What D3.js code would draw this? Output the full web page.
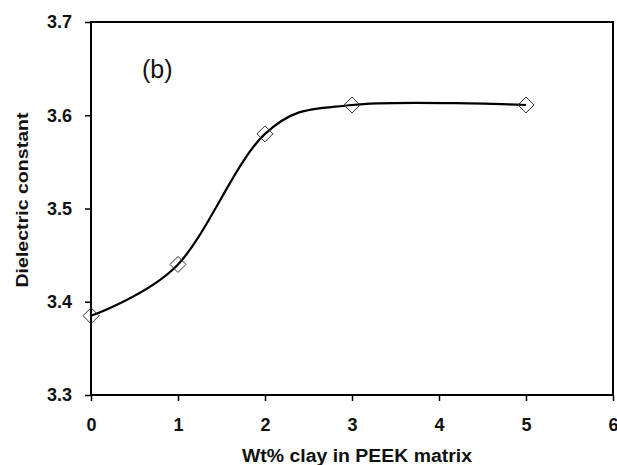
<!DOCTYPE html>
<html lang="en">
<head>
<meta charset="UTF-8">
<script src="https://d3js.org/d3.v7.min.js"></script>
<style>
  body { margin: 0; background: #fff; }
  text { font-family: "Liberation Sans", Arial, sans-serif; fill: #111; }
</style>
</head>
<body>
<div id="chart"></div>
<script>
// data
var clayWt = [0, 1, 2, 3, 5];
var dielectric = [3.385, 3.44, 3.58, 3.611, 3.611];
var xTicks = [0, 1, 2, 3, 4, 5, 6];
var yTicks = [3.3, 3.4, 3.5, 3.6, 3.7];

var W = 617, H = 465;
var margin = { top: 22, right: 4, bottom: 70, left: 91 };
var width = W - margin.left - margin.right,
    height = H - margin.top - margin.bottom;

var svg = d3.select("#chart").append("svg")
    .attr("width", W).attr("height", H);
var g = svg.append("g")
    .attr("transform", "translate(" + margin.left + "," + margin.top + ")");

var x = d3.scaleLinear().domain([0, 6]).range([0, width]);
var y = d3.scaleLinear().domain([3.3, 3.7]).range([height, 0]);

// frame
g.append("rect")
    .attr("width", width).attr("height", height)
    .attr("fill", "none").attr("stroke", "#000").attr("stroke-width", 2);

var xAxis = g.append("g")
    .attr("transform", "translate(0," + height + ")")
    .call(d3.axisBottom(x).tickValues(xTicks).tickSize(6).tickPadding(17).tickFormat(d3.format("d")));
var yAxis = g.append("g")
    .call(d3.axisLeft(y).tickValues(yTicks).tickSize(6).tickPadding(13).tickFormat(d3.format(".1f")));

[xAxis, yAxis].forEach(function (a) {
    a.select(".domain").remove();
    a.selectAll("line").attr("stroke", "#000").attr("stroke-width", 1.5);
    a.selectAll("text")
        .style("font-family", "'Liberation Sans', Arial, sans-serif")
        .style("font-size", "18px").style("font-weight", "bold").attr("fill", "#111");
});

var pts = clayWt.map(function (d, i) { return [d, dielectric[i]]; });

var line = d3.line()
    .x(function (d) { return x(d[0]); })
    .y(function (d) { return y(d[1]); })
    .curve(d3.curveCardinal.tension(0));

g.append("path")
    .datum(pts)
    .attr("d", line)
    .attr("fill", "none")
    .attr("stroke", "#000")
    .attr("stroke-width", 2.2);

g.selectAll(".pt")
    .data(pts)
    .enter().append("path")
    .attr("class", "pt")
    .attr("transform", function (d) { return "translate(" + x(d[0]) + "," + y(d[1]) + ")"; })
    .attr("d", "M0,-8L8,0L0,8L-8,0Z")
    .attr("fill", "none")
    .attr("stroke", "#333")
    .attr("stroke-width", 1);

g.append("text")
    .attr("x", 51).attr("y", 56)
    .style("font-size", "25px")
    .text("(b)");

svg.append("text")
    .attr("transform", "translate(28," + 200 + ") rotate(-90)")
    .attr("text-anchor", "middle")
    .attr("textLength", 175).attr("lengthAdjust", "spacingAndGlyphs")
    .style("font-size", "17px").style("font-weight", "bold")
    .text("Dielectric constant");

svg.append("text")
    .attr("x", 357).attr("y", 462)
    .attr("text-anchor", "middle")
    .attr("textLength", 230).attr("lengthAdjust", "spacingAndGlyphs")
    .style("font-size", "18px").style("font-weight", "bold")
    .text("Wt% clay in PEEK matrix");
</script>
</body>
</html>
